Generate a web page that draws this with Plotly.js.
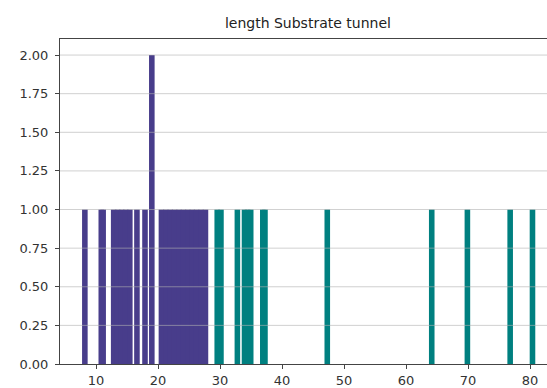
<!DOCTYPE html>
<html>
<head>
<meta charset="utf-8">
<script src="https://cdn.plot.ly/plotly-3.0.1.min.js"></script>
<style>
  html, body { margin: 0; padding: 0; overflow: hidden; background: #fff; }
  #chart { width: 547px; height: 388px; }
</style>
</head>
<body>
<div id="chart"></div>
<script>
// Tunnel lengths (bar positions) and counts
const shortLengths = [8.2, 10.85, 11.15, 12.85, 13.5, 14.15, 14.8, 15.45, 16.6, 17.9, 19.0,
                      20.55, 21.26, 21.97, 22.68, 23.39, 24.1, 24.81, 25.52, 26.23, 26.94, 27.65];
const shortCounts  = [1, 1, 1, 1, 1, 1, 1, 1, 1, 1, 2,
                      1, 1, 1, 1, 1, 1, 1, 1, 1, 1, 1];
const longLengths  = [29.55, 30.15, 32.8, 33.95, 34.45, 34.95, 36.9, 37.25, 47.3, 64.15, 69.9, 76.8, 80.4];
const longCounts   = [1, 1, 1, 1, 1, 1, 1, 1, 1, 1, 1, 1, 1];
const yTicks = [0.25, 0.5, 0.75, 1.0, 1.25, 1.5, 1.75, 2.0];
const chartTitle = "length Substrate tunnel";

const barWidth = 0.9;
const traces = [
  { type: 'bar', x: shortLengths, y: shortCounts, width: shortLengths.map(() => barWidth),
    marker: { color: '#483D8B', line: { width: 0 } }, hoverinfo: 'x+y' },
  { type: 'bar', x: longLengths, y: longCounts, width: longLengths.map(() => barWidth),
    marker: { color: '#008080', line: { width: 0 } }, hoverinfo: 'x+y' }
];

const gridShapes = yTicks.map(v => ({
  type: 'line', xref: 'paper', x0: 0, x1: 1, yref: 'y', y0: v, y1: v,
  line: { color: 'rgba(176,176,176,0.6)', width: 1 }, layer: 'above'
}));

const tickFont = { family: 'DejaVu Sans', size: 13, color: '#333' };

const layout = {
  width: 547, height: 388,
  margin: { l: 60, r: 0, t: 39, b: 24 },
  paper_bgcolor: '#fff', plot_bgcolor: '#fff',
  showlegend: false,
  barmode: 'overlay',
  font: { family: 'DejaVu Sans', size: 13, color: '#333' },
  title: { text: chartTitle, font: { family: 'DejaVu Sans', size: 14, color: '#222' },
           xref: 'paper', x: 0.509, xanchor: 'center', yref: 'container', y: 0.94, yanchor: 'middle' },
  xaxis: {
    range: [4.19, 82.74], showgrid: false, zeroline: false,
    tickmode: 'linear', tick0: 10, dtick: 10,
    ticks: 'outside', ticklen: 4, tickcolor: '#444', tickwidth: 1,
    showline: true, linecolor: '#444', linewidth: 1, mirror: true,
    tickfont: tickFont
  },
  yaxis: {
    range: [0, 2.104], showgrid: false, zeroline: false,
    tickmode: 'linear', tick0: 0, dtick: 0.25, tickformat: '.2f',
    ticks: 'outside', ticklen: 4, tickcolor: '#444', tickwidth: 1,
    showline: true, linecolor: '#444', linewidth: 1,
    ticklabelstandoff: 4,
    tickfont: tickFont
  },
  shapes: gridShapes
};

Plotly.newPlot('chart', traces, layout, { staticPlot: true, displayModeBar: false });
</script>
</body>
</html>
